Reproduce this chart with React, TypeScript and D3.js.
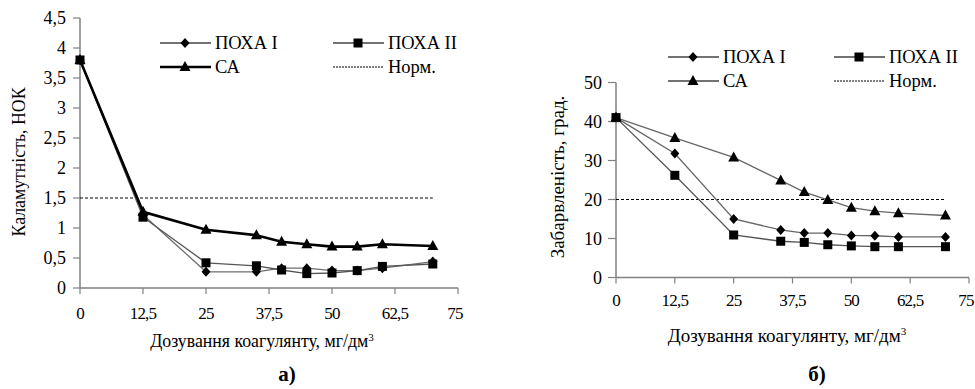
import React from "react";
import * as d3 from "d3";

// дозування коагулянту, мг/дм3
const doses = [0, 12.5, 25, 35, 40, 45, 50, 55, 60, 70];

// а) каламутність, НОК
const turbPoxa1 = [3.8, 1.22, 0.27, 0.27, 0.33, 0.33, 0.29, 0.29, 0.33, 0.44];
const turbPoxa2 = [3.8, 1.18, 0.42, 0.37, 0.3, 0.24, 0.25, 0.29, 0.36, 0.4];
const turbCa = [3.8, 1.27, 0.97, 0.88, 0.77, 0.73, 0.69, 0.69, 0.73, 0.7];
const turbNorm = 1.5;

// б) забарвленість, град.
const colPoxa1 = [41, 31.8, 15, 12.2, 11.4, 11.4, 10.8, 10.7, 10.4, 10.4];
const colPoxa2 = [41, 26.2, 10.9, 9.3, 9.0, 8.4, 8.1, 7.9, 7.9, 7.9];
const colCa = [41, 35.8, 30.8, 24.9, 21.9, 19.9, 17.9, 17.0, 16.5, 15.9];
const colNorm = 20;

const xTicks = [0, 12.5, 25, 37.5, 50, 62.5, 75];
const yTicksA = [0, 0.5, 1, 1.5, 2, 2.5, 3, 3.5, 4, 4.5];
const yTicksB = [0, 10, 20, 30, 40, 50];

const seriesNames = ["ПОХА I", "ПОХА II", "СА", "Норм."];

const font = { fontFamily: "'Liberation Serif'" };
const fmt = (v) => String(v).replace(".", ",");
const axisColor = "#808080";

const Marker = ({ type, x, y }) => {
    if (type === "diamond") {
        return <path d={`M${x},${y - 5}L${x + 4.5},${y}L${x},${y + 5}L${x - 4.5},${y}Z`} fill="#000" />;
    }
    if (type === "square") {
        return <rect x={x - 4.5} y={y - 4.5} width={9} height={9} fill="#000" />;
    }
    return <path d={`M${x},${y - 6}L${x + 5.5},${y + 4}L${x - 5.5},${y + 4}Z`} fill="#000" />;
};

const Panel = ({ cfg }) => {
    const { x0, x1, yTop, yBottom, yDomain, yTicks, series, norm, yTitle, yTitleX, yTitleY,
        xTitleX, xTitleY, xLabelY, caption, captionX, legend, tickLen, titleSize } = cfg;

    const x = d3.scaleLinear().domain([0, 75]).range([x0, x1]);
    const y = d3.scaleLinear().domain(yDomain).range([yBottom, yTop]);
    const line = d3.line().x((d, i) => x(doses[i])).y((d) => y(d));

    return (
        <g style={font}>
            <line x1={x0} x2={x0} y1={yTop} y2={yBottom} stroke={axisColor} strokeWidth={1.5} />
            <line x1={x0} x2={x1} y1={yBottom} y2={yBottom} stroke={axisColor} strokeWidth={1.5} />
            {yTicks.map((t) => (
                <g key={"y" + t}>
                    <line x1={x0 - tickLen} x2={x0} y1={y(t)} y2={y(t)} stroke={axisColor} strokeWidth={1.2} />
                    <text x={x0 - 14} y={y(t)} dy="0.35em" textAnchor="end" fontSize={18} style={font}>
                        {fmt(t)}
                    </text>
                </g>
            ))}
            {xTicks.map((t) => (
                <g key={"x" + t}>
                    <line x1={x(t)} x2={x(t)} y1={yBottom} y2={yBottom + 6} stroke={axisColor} strokeWidth={1.2} />
                    <text x={t === 75 ? x(t) - 3 : x(t)} y={xLabelY} dy="0.35em" textAnchor="middle" fontSize={17}
                        letterSpacing={-0.8} style={font}>
                        {fmt(t)}
                    </text>
                </g>
            ))}

            {/* норматив */}
            <line x1={x(0)} x2={x(70)} y1={y(norm)} y2={y(norm)} stroke="#000" strokeWidth={1}
                strokeDasharray="3,2" />

            {series.map((s, k) => (
                <path key={"l" + k} d={line(s.values)} fill="none" stroke={s.color} strokeWidth={s.width} />
            ))}
            {series.map((s, k) =>
                s.values.map((v, i) => <Marker key={k + "-" + i} type={s.marker} x={x(doses[i])} y={y(v)} />)
            )}

            {/* легенда */}
            {legend.map((l, i) => {
                const s = series[i];
                return (
                    <g key={"lg" + i}>
                        {s ? (
                            <>
                                <line x1={l.x} x2={l.x + 51} y1={l.y} y2={l.y} stroke={s.legendColor}
                                    strokeWidth={s.width} />
                                <Marker type={s.marker} x={l.x + 25} y={l.y} />
                            </>
                        ) : (
                            <line x1={l.x} x2={l.x + 50} y1={l.y} y2={l.y} stroke="#000" strokeWidth={1}
                                strokeDasharray="2,1" />
                        )}
                        <text x={l.x + 55} y={l.y} dy="0.35em" fontSize={18.5} style={font}>
                            {seriesNames[i]}
                        </text>
                    </g>
                );
            })}

            <text transform={`translate(${yTitleX},${yTitleY}) rotate(-90)`} textAnchor="middle" dy="0.35em"
                fontSize={titleSize} style={font}>
                {yTitle}
            </text>
            <text x={xTitleX} y={xTitleY} dy="0.35em" textAnchor="middle" fontSize={titleSize} style={font}>
                Дозування коагулянту, мг/дм
                <tspan fontSize={11} dy="-0.6em">3</tspan>
            </text>
            <text x={captionX} y={374} dy="0.35em" textAnchor="middle" fontSize={21} fontWeight="bold" style={font}>
                {caption}
            </text>
        </g>
    );
};

const panelA = {
    x0: 80, x1: 458, yTop: 18, yBottom: 288, yDomain: [0, 4.5], yTicks: yTicksA, tickLen: 7,
    series: [
        { values: turbPoxa1, marker: "diamond", color: "#6e6e6e", legendColor: "#444", width: 1.3 },
        { values: turbPoxa2, marker: "square", color: "#555", legendColor: "#444", width: 1.3 },
        { values: turbCa, marker: "triangle", color: "#000", legendColor: "#000", width: 2.6 },
    ],
    norm: turbNorm,
    titleSize: 17.8,
    yTitle: "Каламутність, НОК", yTitleX: 19, yTitleY: 162,
    xTitleX: 262, xTitleY: 341, xLabelY: 313,
    caption: "а)", captionX: 287,
    legend: [{ x: 160, y: 43 }, { x: 333, y: 43 }, { x: 160, y: 67 }, { x: 333, y: 67 }],
};

const panelB = {
    x0: 616, x1: 969, yTop: 82.5, yBottom: 277.5, yDomain: [0, 50], yTicks: yTicksB, tickLen: 8,
    series: [
        { values: colPoxa1, marker: "diamond", color: "#666", legendColor: "#444", width: 1.3 },
        { values: colPoxa2, marker: "square", color: "#555", legendColor: "#444", width: 1.3 },
        { values: colCa, marker: "triangle", color: "#666", legendColor: "#444", width: 1.3 },
    ],
    norm: colNorm,
    titleSize: 19,
    yTitle: "Забарвленість, град.", yTitleX: 557, yTitleY: 177,
    xTitleX: 787, xTitleY: 335, xLabelY: 300,
    caption: "б)", captionX: 817,
    legend: [{ x: 668, y: 57 }, { x: 834, y: 57 }, { x: 668, y: 81 }, { x: 834, y: 81 }],
};

const App = () => (
    <svg width={975} height={389} style={{ position: "absolute", left: 0, top: 0, background: "#fff" }}>
        <Panel cfg={panelA} />
        <Panel cfg={panelB} />
    </svg>
);

export default App;
